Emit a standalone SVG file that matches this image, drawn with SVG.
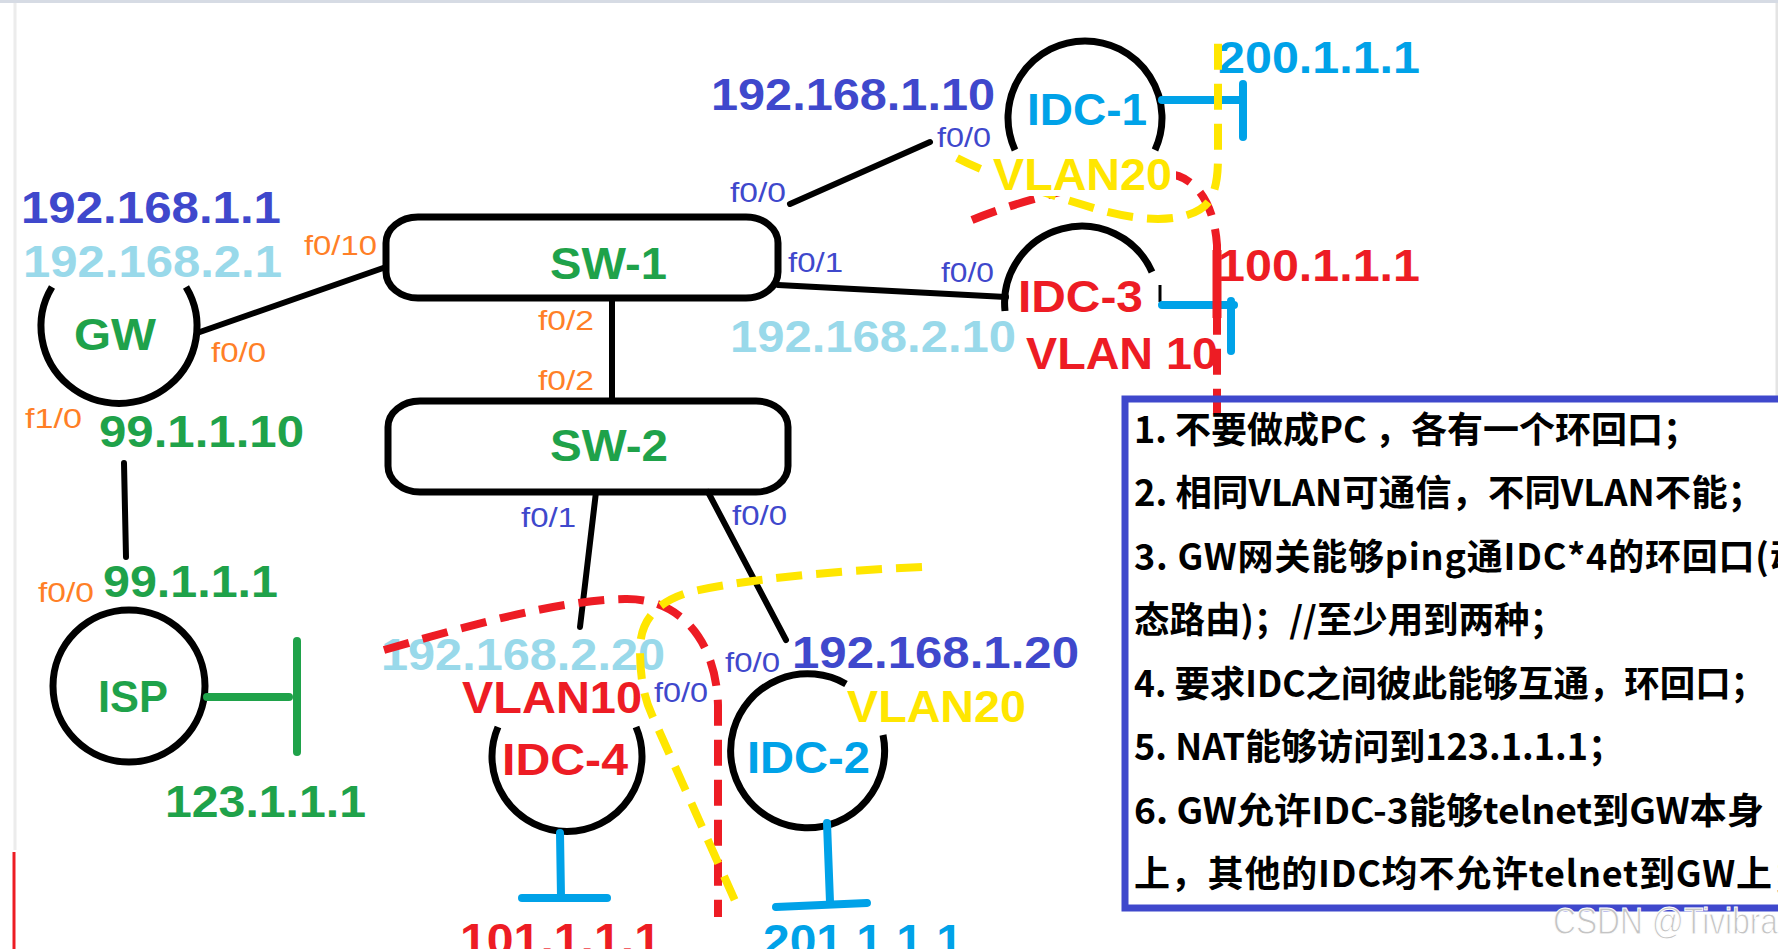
<svg xmlns="http://www.w3.org/2000/svg" width="1781" height="949" viewBox="0 0 1781 949">
<style>
.big{font-family:"Liberation Sans",Arial,sans-serif;font-weight:bold;font-size:45px}
.port{font-family:"Liberation Sans",Arial,sans-serif;font-size:28px}
.note{font-family:"Noto Sans CJK SC","Noto Sans",sans-serif;font-weight:bold;font-size:36px;fill:#000}
.node{fill:none;stroke:#000;stroke-width:7}
.link{stroke:#000;stroke-width:6;stroke-linecap:round}
.lb{stroke:#00A2E8;stroke-width:8;stroke-linecap:round}
.lg{stroke:#1FA24A;stroke-width:8;stroke-linecap:round}
.dr{fill:none;stroke:#ED1C24;stroke-width:8;stroke-dasharray:26 14}
.dy{fill:none;stroke:#FFE600;stroke-width:8;stroke-dasharray:26 14}
.db{fill:#3F48CC}.lt{fill:#99D9EA}.cy{fill:#00A2E8}.g{fill:#1FA24A}.o{fill:#FF7F27}.r{fill:#ED1C24}.y{fill:#FFE600}
</style>
<rect width="1781" height="949" fill="#fff"/>
<line x1="0" y1="1.5" x2="1781" y2="1.5" stroke="#d6dbe4" stroke-width="3"/>
<line x1="15" y1="3" x2="15" y2="850" stroke="#ececec" stroke-width="3"/>
<line x1="14" y1="852" x2="14" y2="949" stroke="#ED1C24" stroke-width="3"/>
<line x1="1777" y1="3" x2="1777" y2="396" stroke="#e4e4e4" stroke-width="3"/>

<g id="connectors">
<line class="link" x1="197" y1="333" x2="386" y2="267"/>
<line class="link" x1="124" y1="463" x2="126" y2="557"/>
<line class="link" x1="612" y1="298" x2="612" y2="401"/>
<line class="link" x1="790" y1="204" x2="930" y2="142"/>
<line class="link" x1="778" y1="285" x2="1006" y2="297"/>
<line class="link" x1="596" y1="492" x2="580" y2="627"/>
<line class="link" x1="708" y1="492" x2="786" y2="640"/>
</g>

<g id="node-gw">
<path class="node" d="M 52 287 A 78 77 0 1 0 186 287"/>
<text class="big g" x="74" y="350" textLength="82" lengthAdjust="spacingAndGlyphs">GW</text>
<text class="big db" x="21" y="223" textLength="260" lengthAdjust="spacingAndGlyphs">192.168.1.1</text>
<text class="big lt" x="23" y="277" textLength="259" lengthAdjust="spacingAndGlyphs">192.168.2.1</text>
<text class="port o" x="304" y="255" textLength="73" lengthAdjust="spacingAndGlyphs">f0/10</text>
<text class="port o" x="211" y="362" textLength="55" lengthAdjust="spacingAndGlyphs">f0/0</text>
<text class="port o" x="25" y="428" textLength="57" lengthAdjust="spacingAndGlyphs">f1/0</text>
<text class="big g" x="99" y="447" textLength="205" lengthAdjust="spacingAndGlyphs">99.1.1.10</text>
</g>

<g id="node-isp">
<circle class="node" cx="129" cy="686" r="76"/>
<text class="big g" x="98" y="712" textLength="70" lengthAdjust="spacingAndGlyphs">ISP</text>
<line class="lg" x1="207" y1="697" x2="289" y2="697"/>
<line class="lg" x1="297" y1="641" x2="297" y2="752"/>
<text class="big g" x="165" y="817" textLength="201" lengthAdjust="spacingAndGlyphs">123.1.1.1</text>
<text class="big g" x="103" y="597" textLength="175" lengthAdjust="spacingAndGlyphs">99.1.1.1</text>
<text class="port o" x="38" y="602" textLength="56" lengthAdjust="spacingAndGlyphs">f0/0</text>
</g>

<g id="node-sw1">
<rect class="node" x="386" y="217" width="392" height="81" rx="32" ry="26"/>
<text class="big g" x="550" y="279" textLength="117" lengthAdjust="spacingAndGlyphs">SW-1</text>
<text class="port o" x="538" y="330" textLength="56" lengthAdjust="spacingAndGlyphs">f0/2</text>
<text class="port db" x="730" y="202" textLength="56" lengthAdjust="spacingAndGlyphs">f0/0</text>
<text class="port db" x="788" y="272" textLength="55" lengthAdjust="spacingAndGlyphs">f0/1</text>
</g>

<g id="node-sw2">
<rect class="node" x="388" y="401" width="400" height="91" rx="32" ry="26"/>
<text class="big g" x="550" y="461" textLength="118" lengthAdjust="spacingAndGlyphs">SW-2</text>
<text class="port o" x="538" y="390" textLength="56" lengthAdjust="spacingAndGlyphs">f0/2</text>
<text class="port db" x="521" y="527" textLength="55" lengthAdjust="spacingAndGlyphs">f0/1</text>
<text class="port db" x="732" y="525" textLength="55" lengthAdjust="spacingAndGlyphs">f0/0</text>
</g>

<g id="node-idc1">
<path class="node" d="M 1015 150 A 77 77 0 1 1 1155 150"/>
<text class="big cy" x="1027" y="125" textLength="120" lengthAdjust="spacingAndGlyphs">IDC-1</text>
<line class="lb" x1="1162" y1="100" x2="1240" y2="100"/>
<line class="lb" x1="1243" y1="84" x2="1243" y2="137"/>
<text class="big cy" x="1218" y="73" textLength="202" lengthAdjust="spacingAndGlyphs">200.1.1.1</text>
<text class="big db" x="711" y="110" textLength="284" lengthAdjust="spacingAndGlyphs">192.168.1.10</text>
<text class="port db" x="937" y="147" textLength="54" lengthAdjust="spacingAndGlyphs">f0/0</text>
</g>

<g id="node-idc3">
<path class="node" d="M 1005 311 A 77 77 0 0 1 1152 272"/>
<line x1="1160" y1="285" x2="1160" y2="302" stroke="#000" stroke-width="3"/>
<text class="big r" x="1018" y="312" textLength="125" lengthAdjust="spacingAndGlyphs">IDC-3</text>
<line class="lb" x1="1162" y1="305" x2="1234" y2="305"/>
<line class="lb" x1="1231" y1="301" x2="1231" y2="351"/>
<text class="big r" x="1218" y="281" textLength="202" lengthAdjust="spacingAndGlyphs">100.1.1.1</text>
<text class="big r" x="1026" y="369" textLength="192" lengthAdjust="spacingAndGlyphs">VLAN 10</text>
<text class="big lt" x="730" y="352" textLength="286" lengthAdjust="spacingAndGlyphs">192.168.2.10</text>
<text class="port db" x="941" y="282" textLength="53" lengthAdjust="spacingAndGlyphs">f0/0</text>
</g>

<g id="node-idc4">
<path class="node" d="M 498 727 A 75 75 0 1 0 636 727"/>
<text class="big r" x="502" y="775" textLength="126" lengthAdjust="spacingAndGlyphs">IDC-4</text>
<line class="lb" x1="560" y1="833" x2="561" y2="897"/>
<line class="lb" x1="522" y1="898" x2="607" y2="898"/>
<text class="big r" x="460" y="955" textLength="201" lengthAdjust="spacingAndGlyphs">101.1.1.1</text>
<text class="big r" x="462" y="713" textLength="180" lengthAdjust="spacingAndGlyphs">VLAN10</text>
<text class="big lt" x="381" y="670" textLength="284" lengthAdjust="spacingAndGlyphs">192.168.2.20</text>
<text class="port db" x="654" y="702" textLength="54" lengthAdjust="spacingAndGlyphs">f0/0</text>
</g>

<g id="node-idc2">
<path class="node" d="M 883 735 A 77 77 0 1 1 846 684"/>
<text class="big cy" x="747" y="773" textLength="123" lengthAdjust="spacingAndGlyphs">IDC-2</text>
<line class="lb" x1="827" y1="823" x2="830" y2="902"/>
<line class="lb" x1="776" y1="907" x2="867" y2="903"/>
<text class="big cy" x="763" y="956" textLength="200" lengthAdjust="spacingAndGlyphs">201.1.1.1</text>
<text class="big y" x="847" y="722" textLength="179" lengthAdjust="spacingAndGlyphs">VLAN20</text>
<text class="big db" x="792" y="668" textLength="287" lengthAdjust="spacingAndGlyphs">192.168.1.20</text>
<text class="port db" x="725" y="672" textLength="55" lengthAdjust="spacingAndGlyphs">f0/0</text>
</g>

<g id="vlan-zones">
<path class="dr" d="M 972 220 C 1020 200 1100 180 1160 174 C 1192 171 1214 200 1217 245 L 1217 415"/>
<line x1="1217" y1="250" x2="1217" y2="318" stroke="#ED1C24" stroke-width="9"/>
<path class="dy" d="M 957 158 C 990 175 1040 192 1100 210 C 1150 224 1195 222 1210 200 C 1218 185 1218 170 1218 150 L 1218 33"/>
<path class="dr" d="M 384 650 C 470 625 560 600 625 599 C 680 598 716 640 718 705 L 718 917"/>
<path class="dy" d="M 922 567 C 830 571 740 580 690 592 C 655 602 640 622 640 650 C 640 680 645 700 652 715 L 740 912"/>
</g>

<g id="label-vlan20-top">
<rect x="990" y="156" width="186" height="40" fill="#fff"/>
<text class="big y" x="993" y="190" textLength="179" lengthAdjust="spacingAndGlyphs">VLAN20</text>
</g>

<g id="requirements">
<rect x="1125" y="399" width="700" height="509" fill="none" stroke="#3F48CC" stroke-width="7"/>
<text class="note" x="1134" y="443">1. 不要做成PC ，各有一个环回口；</text>
<text class="note" x="1134" y="506" textLength="630" lengthAdjust="spacingAndGlyphs">2. 相同VLAN可通信，不同VLAN不能；</text>
<text class="note" x="1134" y="570" letter-spacing="0.8">3. GW网关能够ping通IDC*4的环回口(动</text>
<text class="note" x="1134" y="633" textLength="431" lengthAdjust="spacingAndGlyphs">态路由)；//至少用到两种；</text>
<text class="note" x="1134" y="697" textLength="632" lengthAdjust="spacingAndGlyphs">4. 要求IDC之间彼此能够互通，环回口；</text>
<text class="note" x="1134" y="760" textLength="490" lengthAdjust="spacingAndGlyphs">5. NAT能够访问到123.1.1.1；</text>
<text class="note" x="1134" y="824" textLength="630" lengthAdjust="spacingAndGlyphs">6. GW允许IDC-3能够telnet到GW本身</text>
<text class="note" x="1134" y="887" letter-spacing="0.8">上，其他的IDC均不允许telnet到GW上；</text>
</g>
<rect x="1778" y="0" width="3" height="949" fill="#fff"/>
<text x="1553" y="934" font-family="Liberation Sans, Arial, sans-serif" font-size="36" fill="#c4c4c4" stroke="#fff" stroke-width="1" textLength="225" lengthAdjust="spacingAndGlyphs">CSDN @Tivibra</text>
</svg>
